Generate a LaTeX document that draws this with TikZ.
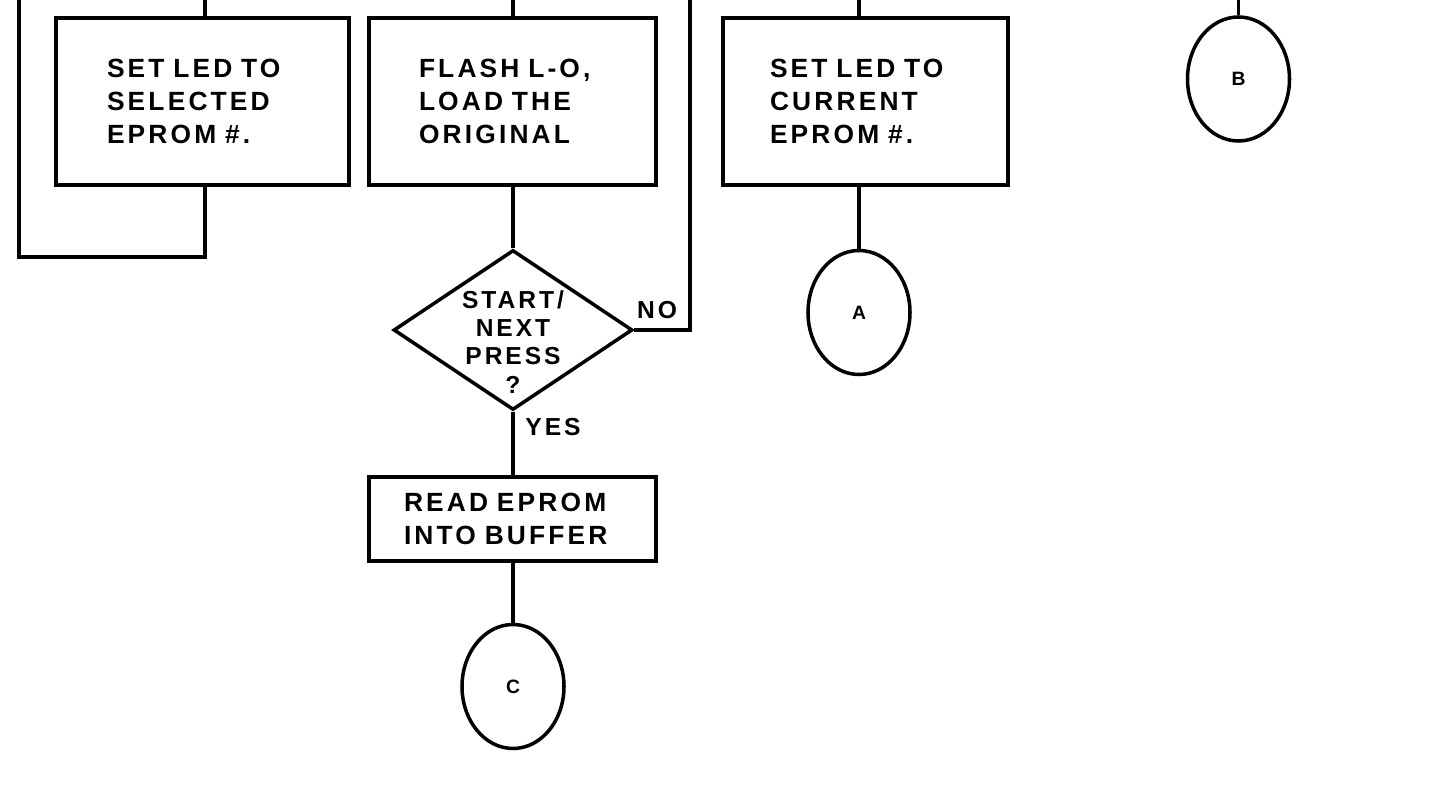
\documentclass[tikz,border=0pt]{standalone}
\usepackage{fontspec}
\setmainfont{Liberation Sans}[LetterSpace=12]
\usetikzlibrary{shapes.geometric}

\tikzset{
  box/.style={draw, align=left, minimum height=1.67cm, inner ysep=0pt,
    font=\bfseries\fontsize{7.5}{9.3}\selectfont},
  decision/.style={draw, diamond, minimum width=2.39cm, minimum height=1.60cm, inner sep=0pt},
  conn/.style={draw, ellipse, minimum width=1.02cm, minimum height=1.24cm, inner sep=0pt,
    font=\bfseries\fontsize{5.5}{6.5}\selectfont},
  tag/.style={font=\bfseries\fontsize{7}{8}\selectfont, align=center, inner sep=0pt}
}

\begin{document}
\begin{tikzpicture}[line width=1pt]
  \useasboundingbox (0,0) rectangle (14.37,-7.89);

  \coordinate (in1) at (2.05,0);
  \coordinate (lp)  at (0.19,0);
  \coordinate (in2) at (5.13,0);
  \coordinate (nx)  at (6.90,0);
  \coordinate (in4) at (8.59,0);
  \coordinate (inB) at (12.385,0);

  \node[box, text width=1.91cm, inner xsep=0.51cm] (s1) at (2.025,-1.015) {SET LED TO\\SELECTED\\EPROM \#.};
  \node[box, text width=1.87cm, inner xsep=0.50cm] (fl) at (5.125,-1.015) {FLASH L-O,\\LOAD THE\\ORIGINAL};
  \node[box, text width=1.91cm, inner xsep=0.47cm] (s2) at (8.655,-1.015) {SET LED TO\\CURRENT\\EPROM \#.};
  \node[decision] (q) at (5.13,-3.30) {};
  \node[tag] (qt) at (5.13,-3.42) {START/\\NEXT\\PRESS\\?};
  \node[box, minimum height=0.84cm, text width=2.17cm, inner xsep=0.35cm] (rd) at (5.125,-5.19) {READ EPROM\\INTO BUFFER};
  \node[conn] (cC) at (5.13,-6.865) {C};
  \node[conn] (cA) at (8.59,-3.125) {A};
  \node[conn] (cB) at (12.385,-0.79) {B};

  \draw (in1) -- (in1 |- s1.north);
  \draw (s1.south -| in1) -- ++(0,-0.70) -| (lp);
  \draw (in2) -- (in2 |- fl.north);
  \draw (fl.south -| q) -- (q.north);
  \draw (q.east) -| (nx);
  \draw (q.south) -- (rd.north -| q);
  \draw (rd.south -| cC) -- (cC.north);
  \draw (in4) -- (in4 |- s2.north);
  \draw (s2.south -| cA) -- (cA.north);
  \draw (inB) -- (cB.north);

  \node[tag] (no)  at (6.57,-3.10) {NO};
  \node[tag] (yes) at (5.53,-4.27) {YES};
\end{tikzpicture}
\end{document}
